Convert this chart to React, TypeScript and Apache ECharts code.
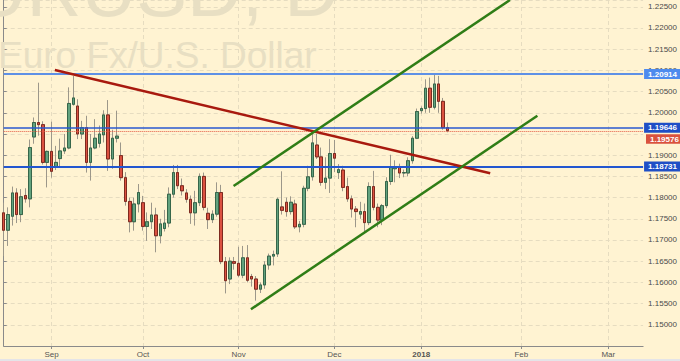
import React, { useEffect, useRef } from "react";
import * as echarts from "echarts";

// ---- calendar (trading-day slots) ----
const firstDay = "2017-08-17";
const holidays = ["2017-12-25"];
const slotCount = 148;
const monthNames = ["Jan", "Feb", "Mar", "Apr", "May", "Jun", "Jul", "Aug", "Sep", "Oct", "Nov", "Dec"];

// ---- EUR/USD daily OHLC ----
const opens = [
  1.1764, 1.1723, 1.1756, 1.1811, 1.1760, 1.1805, 1.1797, 1.1943, 1.1977, 1.1972, 1.1883,
  1.1909, 1.1873, 1.1892, 1.1910, 1.1917, 1.2020, 1.2016, 1.1950, 1.1965, 1.1883, 1.1917,
  1.1928, 1.1948, 1.1995, 1.1891, 1.1940, 1.1899, 1.1847, 1.1791, 1.1743, 1.1785,
  1.1788, 1.1732, 1.1743, 1.1759, 1.1710, 1.1727, 1.1740, 1.1808, 1.1859, 1.1828, 1.1811,
  1.1796, 1.1764, 1.1788, 1.1850, 1.1763, 1.1748, 1.1761, 1.1812, 1.1649, 1.1608, 1.1649,
  1.1645, 1.1617, 1.1658, 1.1614, 1.1608, 1.1584, 1.1594, 1.1641, 1.1662, 1.1667, 1.1778,
  1.1789, 1.1767, 1.1785, 1.1731, 1.1737, 1.1822, 1.1849, 1.1924, 1.1896, 1.1836, 1.1846,
  1.1904, 1.1859, 1.1865, 1.1826, 1.1797, 1.1773, 1.1761, 1.1767, 1.1741, 1.1826, 1.1777,
  1.1747, 1.1781, 1.1838, 1.1868, 1.1873, 1.1858, 1.1858, 1.1887, 1.1940,
  1.2005, 1.2010, 1.2058, 1.2013, 1.2068, 1.2027, 1.1965,
];
const closes = [
  1.1723, 1.1760, 1.1811, 1.1760, 1.1802, 1.1797, 1.1918, 1.1977, 1.1972, 1.1883, 1.1909,
  1.1862, 1.1883, 1.1910, 1.1917, 1.2022, 1.2035, 1.1950, 1.1965, 1.1883, 1.1917, 1.1940,
  1.1950, 1.1995, 1.1891, 1.1940, 1.1945, 1.1847, 1.1791, 1.1743, 1.1785, 1.1812,
  1.1732, 1.1743, 1.1759, 1.1710, 1.1738, 1.1740, 1.1808, 1.1859, 1.1828, 1.1816, 1.1796,
  1.1764, 1.1788, 1.1850, 1.1777, 1.1748, 1.1761, 1.1812, 1.1649, 1.1604, 1.1650, 1.1645,
  1.1617, 1.1658, 1.1605, 1.1608, 1.1584, 1.1594, 1.1641, 1.1662, 1.1666, 1.1796, 1.1770,
  1.1767, 1.1789, 1.1731, 1.1737, 1.1822, 1.1849, 1.1929, 1.1896, 1.1836, 1.1846, 1.1904,
  1.1893, 1.1866, 1.1824, 1.1797, 1.1773, 1.1767, 1.1767, 1.1741, 1.1826, 1.1777, 1.1747,
  1.1781, 1.1838, 1.1873, 1.1873, 1.1858, 1.1859, 1.1887, 1.1940, 1.2003,
  1.2010, 1.2058, 1.2013, 1.2068, 1.2027, 1.1965, 1.1958,
];
const lows = [
  1.1662, 1.1686, 1.1734, 1.1740, 1.1742, 1.1788, 1.1777, 1.1927, 1.1946, 1.1878, 1.1824,
  1.1847, 1.1865, 1.1870, 1.1903, 1.1914, 1.2017, 1.1938, 1.1938, 1.1859, 1.1840, 1.1914,
  1.1918, 1.1930, 1.1863, 1.1868, 1.1930, 1.1840, 1.1781, 1.1718, 1.1722, 1.1765,
  1.1722, 1.1698, 1.1726, 1.1671, 1.1692, 1.1720, 1.1730, 1.1800, 1.1820, 1.1805, 1.1788,
  1.1738, 1.1734, 1.1780, 1.1770, 1.1726, 1.1740, 1.1755, 1.1643, 1.1574, 1.1596, 1.1630,
  1.1612, 1.1610, 1.1600, 1.1590, 1.1557, 1.1575, 1.1585, 1.1630, 1.1640, 1.1660, 1.1760,
  1.1755, 1.1760, 1.1726, 1.1718, 1.1730, 1.1815, 1.1840, 1.1891, 1.1828, 1.1820, 1.1811,
  1.1860, 1.1844, 1.1815, 1.1790, 1.1753, 1.1730, 1.1750, 1.1718, 1.1735, 1.1770, 1.1730,
  1.1735, 1.1775, 1.1830, 1.1836, 1.1846, 1.1848, 1.1850, 1.1880, 1.1938,
  1.1998, 1.2000, 1.2000, 1.2008, 1.2000, 1.1960, 1.1954,
];
const highs = [
  1.1788, 1.1777, 1.1826, 1.1822, 1.1820, 1.1822, 1.1937, 1.1989, 1.2071, 1.1980, 1.1911,
  1.1979, 1.1922, 1.1939, 1.1950, 1.2060, 1.2087, 1.2032, 1.1981, 1.1993, 1.1950, 1.1985,
  1.1970, 1.2006, 1.2030, 1.1960, 1.2005, 1.1930, 1.1860, 1.1800, 1.1800, 1.1832,
  1.1804, 1.1765, 1.1788, 1.1776, 1.1750, 1.1771, 1.1824, 1.1877, 1.1877, 1.1845, 1.1820,
  1.1805, 1.1816, 1.1857, 1.1859, 1.1776, 1.1770, 1.1836, 1.1830, 1.1660, 1.1659, 1.1660,
  1.1684, 1.1686, 1.1688, 1.1620, 1.1615, 1.1600, 1.1650, 1.1668, 1.1675, 1.1800, 1.1862,
  1.1800, 1.1803, 1.1795, 1.1745, 1.1828, 1.1875, 1.1954, 1.1950, 1.1918, 1.1895, 1.1938,
  1.1936, 1.1879, 1.1875, 1.1847, 1.1805, 1.1780, 1.1790, 1.1786, 1.1836, 1.1863, 1.1786,
  1.1785, 1.1848, 1.1901, 1.1888, 1.1880, 1.1866, 1.1895, 1.1945, 1.2010,
  1.2015, 1.2079, 1.2083, 1.2090, 1.2087, 1.2035, 1.1977,
];

// ---- horizontal levels ----
const resistanceLevel = 1.20914;
const pivotLevel = 1.19646;
const supportLevel = 1.18731;
const currentPrice = 1.19576;

// ---- price axis ----
const priceMin = 1.145;
const priceMax = 1.2266;
const priceStep = 0.005;
const hiddenTickLabels = [1.195]; // covered by the price tags in the reference

// ---- trend lines: [slot index, price] ----
const redTrend = [[11.76, 1.21009], [111.85, 1.18573]];
const greenUpper = [[52.85, 1.18274], [116.4, 1.2266]];
const greenLower = [[56.84, 1.15366], [122.7, 1.19932]];

function buildSlots(): string[] {
  const out: string[] = [];
  const [y, m, d] = firstDay.split("-").map(Number);
  const dt = new Date(Date.UTC(y, m - 1, d));
  while (out.length < slotCount) {
    const wd = dt.getUTCDay();
    const s = dt.toISOString().slice(0, 10);
    if (wd !== 0 && wd !== 6 && !holidays.includes(s)) out.push(s);
    dt.setUTCDate(dt.getUTCDate() + 1);
  }
  return out;
}

const FONT = '"Liberation Sans", Arial, sans-serif';
const LABEL_SIZE = 8;

export default function App() {
  const ref = useRef<HTMLDivElement>(null);
  useEffect(() => {
    if (!ref.current) return;
    const chart = echarts.init(ref.current, undefined, { renderer: "svg" });
    const slots = buildSlots();
    const isMonthStart = slots.map((s, i) => i > 0 && s.slice(5, 7) !== slots[i - 1].slice(5, 7));
    const monthFn = (i: number) => isMonthStart[i];

    const candles = opens.map((o, i) => [o, closes[i], lows[i], highs[i]]);
    const bodies = opens.map((o, i) => [o, closes[i], Math.min(o, closes[i]), Math.max(o, closes[i])]);

    const upFill = "#62A27E";
    const downFill = "#DB5140";
    const tagLabel = (bg: string) => ({
      show: true,
      position: "end",
      distance: 1,
      backgroundColor: bg,
      color: "#ffffff",
      fontWeight: "bold",
      fontSize: LABEL_SIZE,
      lineHeight: 9,
      fontFamily: FONT,
      padding: [0.5, 6, 0.5, 4],
      formatter: (p: any) => Number(p.value).toFixed(5),
    });

    chart.setOption({
      animation: false,
      backgroundColor: "#FFF3D2",
      grid: { left: 3.7, right: 35, top: 0, bottom: 15 },
      xAxis: [
        {
          type: "category",
          data: slots,
          boundaryGap: false,
          axisLine: { lineStyle: { color: "#8a8a8a", width: 1 } },
          axisTick: { interval: monthFn, length: 3, lineStyle: { color: "#8a8a8a" } },
          axisLabel: {
            interval: monthFn,
            color: "#555555",
            fontSize: LABEL_SIZE,
            fontFamily: FONT,
            margin: 4,
            formatter: (v: string) => {
              const m = Number(v.slice(5, 7));
              return m === 1 ? "{y|" + v.slice(0, 4) + "}" : monthNames[m - 1];
            },
            rich: { y: { fontWeight: "bold", fontSize: LABEL_SIZE, color: "#555555", fontFamily: FONT } },
          },
          splitLine: { show: true, interval: monthFn, lineStyle: { color: "#E6DCC0", type: [4, 3] } },
        },
        { type: "value", min: 0, max: slotCount - 1, show: false },
      ],
      yAxis: {
        type: "value",
        position: "right",
        min: priceMin,
        max: priceMax,
        interval: priceStep,
        axisLine: { show: true, lineStyle: { color: "#8a8a8a" } },
        axisTick: { show: true, length: 3, lineStyle: { color: "#8a8a8a" } },
        axisLabel: {
          color: "#4a4a4a",
          fontSize: LABEL_SIZE,
          fontFamily: FONT,
          margin: 5,
          showMinLabel: false,
          showMaxLabel: false,
          formatter: (v: number) =>
            hiddenTickLabels.some((h) => Math.abs(h - v) < 1e-7) ? "" : v.toFixed(5),
        },
        splitLine: { show: true, lineStyle: { color: "#E6DCC0", type: [4, 3] } },
      },
      series: [
        {
          type: "candlestick",
          data: candles,
          barWidth: 3,
          z: 3,
          itemStyle: {
            color: upFill,
            color0: downFill,
            borderColor: "#9C978A",
            borderColor0: "#9C978A",
            borderWidth: 1,
          },
        },
        {
          type: "candlestick",
          data: bodies,
          barWidth: 3,
          z: 4,
          itemStyle: {
            color: upFill,
            color0: downFill,
            borderColor: "#36664A",
            borderColor0: "#7E2A1F",
            borderWidth: 1,
          },
          markLine: {
            symbol: "none",
            silent: true,
            animation: false,
            precision: 5,
            data: [
              { yAxis: resistanceLevel, lineStyle: { color: "#5E90E6", width: 2, type: "solid" }, label: tagLabel("#4E8BEE") },
              { yAxis: pivotLevel, lineStyle: { color: "#2A58CF", width: 1.5, type: "solid" }, label: tagLabel("#1F4FC6") },
              { yAxis: supportLevel, lineStyle: { color: "#2256D0", width: 2, type: "solid" }, label: tagLabel("#1F4FC6") },
              { yAxis: currentPrice, lineStyle: { color: "#E45A43", width: 1, type: "dotted" }, label: { show: false } },
            ],
          },
        },
        {
          type: "line",
          xAxisIndex: 1,
          data: redTrend,
          symbol: "none",
          z: 5,
          lineStyle: { color: "#A8190E", width: 2.5 },
        },
        {
          type: "line",
          xAxisIndex: 1,
          data: greenUpper,
          symbol: "none",
          z: 5,
          clip: true,
          lineStyle: { color: "#2F7D16", width: 2.5 },
        },
        {
          type: "line",
          xAxisIndex: 1,
          data: greenLower,
          symbol: "none",
          z: 5,
          lineStyle: { color: "#2F7D16", width: 2.5 },
        },
      ],
    });

    const py = chart.convertToPixel({ yAxisIndex: 0 }, currentPrice) as number;
    chart.setOption({
      graphic: [
        {
          type: "text",
          x: -79,
          y: -42,
          z: 1,
          silent: true,
          style: { text: "EURUSD, D", fontSize: 76, lineHeight: 62, fontFamily: FONT, fill: "#E8DFC3" },
        },
        {
          type: "text",
          x: -2,
          y: 37,
          z: 1,
          silent: true,
          style: { text: "Euro Fx/U.S. Dollar", fontSize: 37, fontFamily: FONT, fill: "#E8DFC3" },
        },
        {
          type: "rect",
          shape: { x: 646, y: py + 3.5, width: 34, height: 9.5 },
          z: 100,
          style: { fill: "#DA523E" },
        },
        {
          type: "text",
          x: 650,
          y: py + 8.3,
          z: 101,
          style: {
            text: currentPrice.toFixed(5),
            fontSize: LABEL_SIZE,
            fontWeight: "bold",
            fontFamily: FONT,
            fill: "#ffffff",
            verticalAlign: "middle",
          },
        },
        {
          type: "rect",
          shape: { x: 0, y: 359, width: 680, height: 2 },
          z: 100,
          style: { fill: "#E4E4E8" },
        },
      ],
    });

    return () => chart.dispose();
  }, []);
  return <div ref={ref} style={{ position: "fixed", left: 0, top: 0, width: 680, height: 361 }} />;
}
